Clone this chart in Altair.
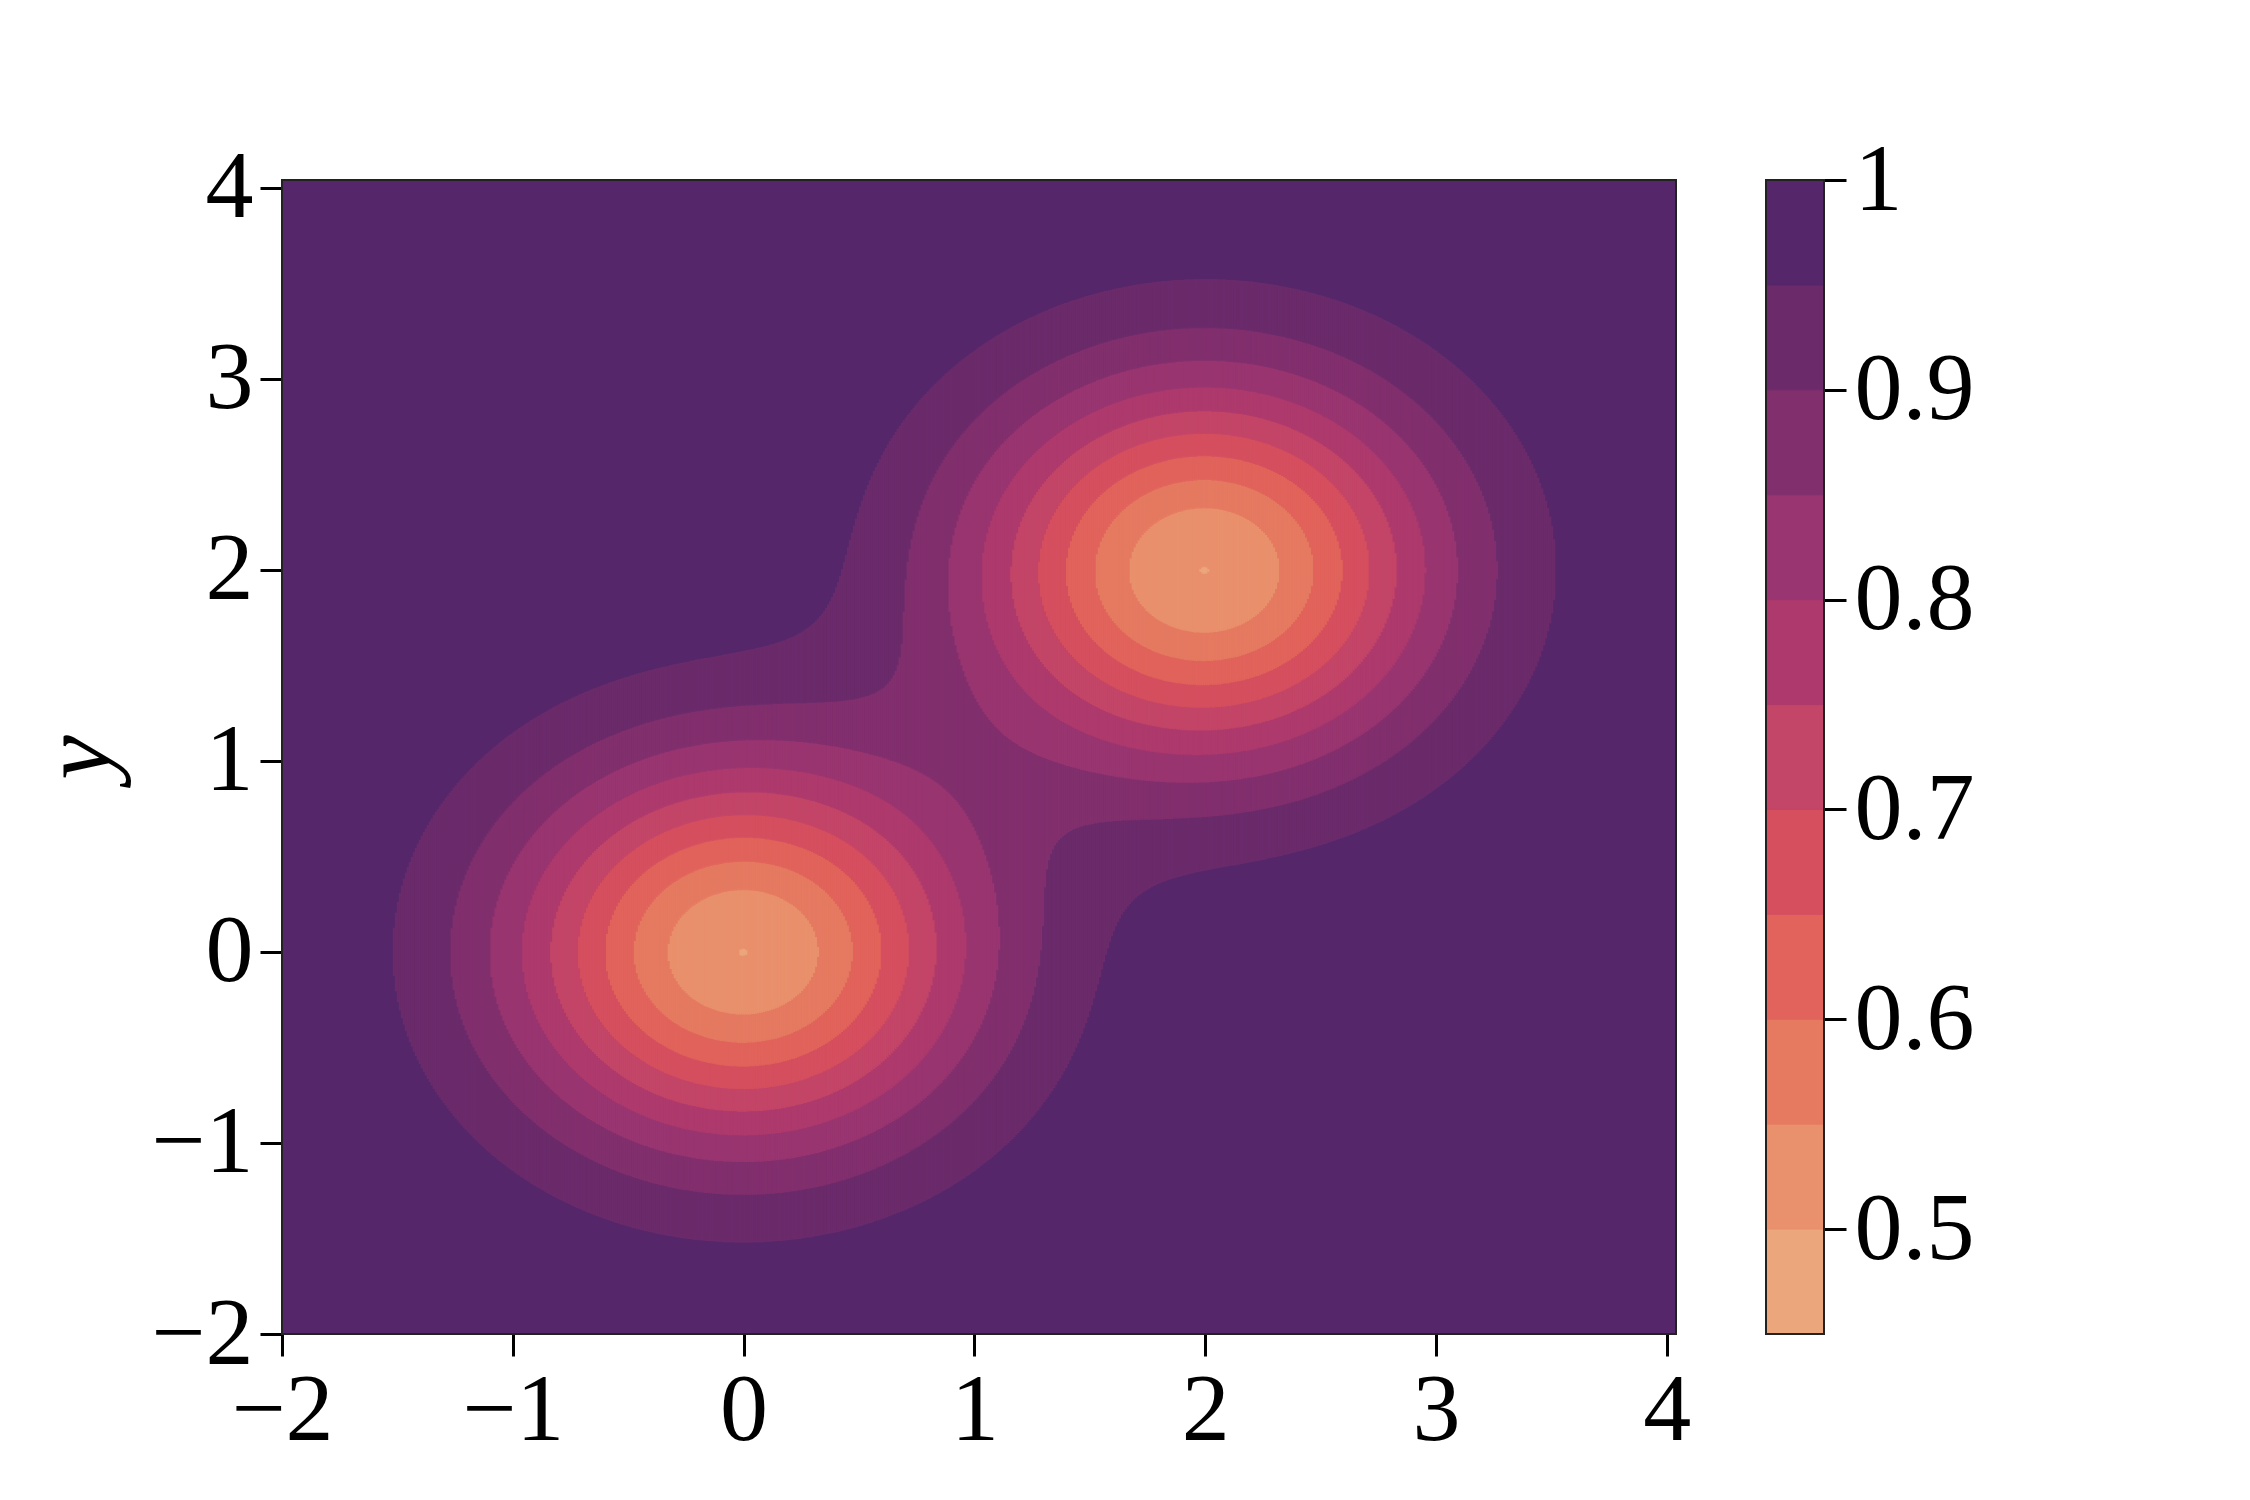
import numpy as np
import pandas as pd
import altair as alt

# ---- field parameters (two Gaussian wells) ----
centers_x = [0.0, 2.0]
centers_y = [0.0, 2.0]
depths = [0.5, 0.5]
spreads = [1.0, 1.0]          # exp(-r^2 / spread)
base_value = 1.0

# ---- contour levels and band colours ----
levels = [0.45, 0.50, 0.55, 0.60, 0.65, 0.70, 0.75, 0.80, 0.85, 0.90, 0.95, 1.00]
band_colors = ["#eca67c", "#e9906c", "#e57a61", "#e1635b", "#d54f5f", "#c34567",
               "#ae3a6d", "#993570", "#822f6e", "#6b2b6b", "#55276a"]

x_domain = [-2.0, 4.04]
y_domain = [-2.0, 4.04]
axis_ticks = [-2, -1, 0, 1, 2, 3, 4]
cbar_ticks = [0.5, 0.6, 0.7, 0.8, 0.9, 1.0]

PLOT_W, PLOT_H = 1394, 1154
CBAR_W = 58
FONT = "Liberation Serif"


def field(x, y):
    v = np.full(np.broadcast(x, y).shape, base_value, dtype=float)
    for cx, cy, d, s in zip(centers_x, centers_y, depths, spreads):
        v = v - d * np.exp(-((x - cx) ** 2 + (y - cy) ** 2) / s)
    return v


# ---- build filled-contour bands as column runs ----
ncol = 700
ny = 3000
dx = (x_domain[1] - x_domain[0]) / ncol
ys = np.linspace(y_domain[0], y_domain[1], ny + 1)
bg_band = len(band_colors) - 1
rows = []
for i in range(ncol):
    xl = x_domain[0] + i * dx
    xc = xl + dx / 2
    f = field(xc, ys)
    b = np.clip(np.digitize(f, levels[1:-1]), 0, bg_band)
    change = np.nonzero(np.diff(b))[0]
    starts = np.concatenate([[0], change + 1])
    ends = np.concatenate([change, [len(ys) - 1]])
    for s, e in zip(starts, ends):
        band = int(b[s])
        if band == bg_band:
            continue
        y_lo = ys[0] if s == 0 else 0.5 * (ys[s - 1] + ys[s])
        y_hi = ys[-1] if e == len(ys) - 1 else 0.5 * (ys[e] + ys[e + 1])
        rows.append({"x": round(xl, 4), "x2": round(xl + dx, 4),
                     "y": round(float(y_lo), 4), "y2": round(float(y_hi), 4),
                     "band": band})
df = pd.DataFrame(rows)

band_ids = list(range(len(band_colors)))
color_scale = alt.Scale(domain=band_ids, range=band_colors)

common_axis = dict(labelFont=FONT, labelFontSize=96, labelColor="black",
                   tickSize=22, tickWidth=3, tickColor="black",
                   domain=False, grid=False, labelFlush=False,
                   labelOverlap=False, labelBound=False)

background = alt.Chart(pd.DataFrame({"k": [0]})).mark_rect(
    fill=band_colors[-1], stroke=None
).encode(x=alt.value(0), x2=alt.value(PLOT_W), y=alt.value(0), y2=alt.value(PLOT_H))

main = alt.Chart(df).mark_rect(strokeWidth=1.3).encode(
    x=alt.X("x:Q", scale=alt.Scale(domain=x_domain, nice=False, zero=False),
            axis=alt.Axis(values=axis_ticks, title=None, labelPadding=7, **common_axis)),
    x2="x2:Q",
    y=alt.Y("y:Q", scale=alt.Scale(domain=y_domain, nice=False, zero=False),
            axis=alt.Axis(values=axis_ticks, title="y", labelPadding=7,
                          titleFont=FONT, titleFontSize=100, titleFontStyle="italic",
                          titleFontWeight="normal", titleColor="black", titlePadding=20,
                          **common_axis)),
    y2="y2:Q",
    color=alt.Color("band:O", scale=color_scale, legend=None),
    stroke=alt.Stroke("band:O", scale=color_scale, legend=None),
).properties(width=PLOT_W, height=PLOT_H)

frame_main = alt.Chart(pd.DataFrame({"k": [0]})).mark_rect(
    fill=None, stroke="#222222", strokeWidth=2
).encode(x=alt.value(0), x2=alt.value(PLOT_W), y=alt.value(0), y2=alt.value(PLOT_H))

main_layer = alt.layer(background, main, frame_main)

cbar_df = pd.DataFrame({
    "lo": levels[:-1],
    "hi": levels[1:],
    "band": band_ids,
})
cbar = alt.Chart(cbar_df).mark_rect(strokeWidth=1).encode(
    x=alt.value(0), x2=alt.value(CBAR_W),
    y=alt.Y("lo:Q", scale=alt.Scale(domain=[levels[0], levels[-1]], nice=False, zero=False),
            axis=alt.Axis(orient="right", values=cbar_ticks, title=None, labelPadding=8,
                          labelExpr="datum.value == 1 ? '1' : format(datum.value, '.1f')",
                          **common_axis)),
    y2="hi:Q",
    color=alt.Color("band:O", scale=color_scale, legend=None),
    stroke=alt.Stroke("band:O", scale=color_scale, legend=None),
).properties(width=CBAR_W, height=PLOT_H)

frame_cbar = alt.Chart(pd.DataFrame({"k": [0]})).mark_rect(
    fill=None, stroke="#222222", strokeWidth=2
).encode(x=alt.value(0), x2=alt.value(CBAR_W), y=alt.value(0), y2=alt.value(PLOT_H))

cbar_layer = alt.layer(cbar, frame_cbar)

chart = alt.hconcat(main_layer, cbar_layer, spacing=74).properties(
    padding={"left": 21, "top": 124, "right": 20, "bottom": 10},
    background="white",
).configure_view(stroke=None)

chart.save("out.html", embed_options={"renderer": "svg", "actions": False})
